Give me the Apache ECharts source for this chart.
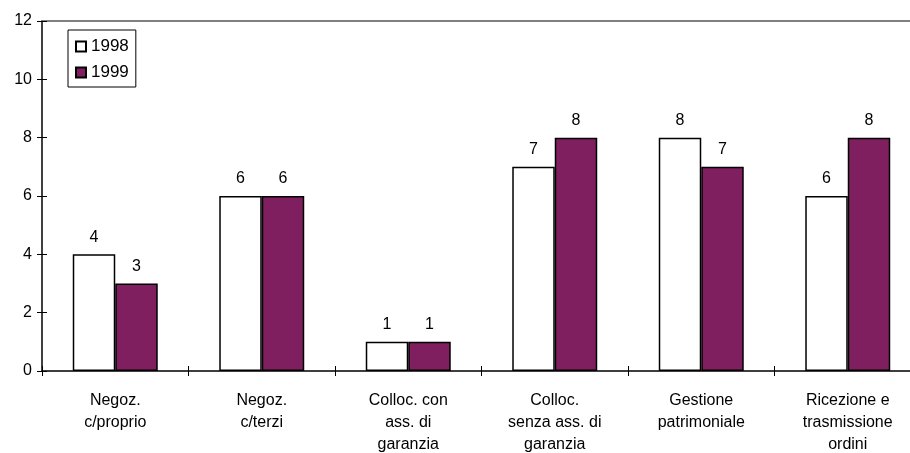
<!DOCTYPE html>
<html>
<head>
<meta charset="utf-8">
<script src="https://cdn.jsdelivr.net/npm/echarts@6/dist/echarts.min.js"></script>
<style>
  html, body { margin: 0; padding: 0; background: #fff; overflow: hidden; }
  #chart { width: 910px; height: 453px; }
</style>
</head>
<body>
<div id="chart"></div>
<script>
// categorie (asse x)
const categories = [
  'Negoz.\nc/proprio',
  'Negoz.\nc/terzi',
  'Colloc. con\nass. di\ngaranzia',
  'Colloc.\nsenza ass. di\ngaranzia',
  'Gestione\npatrimoniale',
  'Ricezione e\ntrasmissione\nordini'
];
// valori per anno
const values1998 = [4, 6, 1, 7, 8, 6];
const values1999 = [3, 6, 1, 8, 7, 8];
const seriesNames = ['1998', '1999'];

const FONT = 'Liberation Sans, Arial, sans-serif';
const chart = echarts.init(document.getElementById('chart'), null, { renderer: 'canvas' });

const axisLine = { show: true, lineStyle: { color: '#000', width: 1.5 } };

chart.setOption({
  animation: false,
  textStyle: { fontFamily: FONT },
  grid: {
    // il lato destro dell'area resta fuori dall'immagine (come nell'originale)
    left: 42, right: -11, top: 21, bottom: 82,
    outerBoundsMode: 'none',
    containLabel: false
  },
  legend: {
    orient: 'vertical',
    left: 68, top: 30,
    padding: [8, 7, 6, 7],
    itemGap: 9,
    itemWidth: 10, itemHeight: 10,
    icon: 'rect',
    borderColor: '#000', borderWidth: 1,
    textStyle: { fontSize: 17, color: '#000' },
    data: seriesNames
  },
  xAxis: [{
    type: 'category',
    data: categories,
    axisLine: axisLine,
    axisTick: { show: true, length: 5, lineStyle: { color: '#000' } },
    axisLabel: { fontSize: 16, color: '#000', margin: 19, lineHeight: 22, interval: 0, align: 'center', hideOverlap: false }
  }, {
    // tacche verso l'interno (le tacche attraversano l'asse)
    type: 'category',
    data: categories,
    position: 'bottom',
    axisLine: { show: false },
    axisTick: { show: true, inside: true, length: 5, lineStyle: { color: '#000' } },
    axisLabel: { show: false }
  }, {
    // linea grigia superiore
    type: 'category',
    data: categories,
    position: 'top',
    axisLine: { show: true, lineStyle: { color: '#808080', width: 2 } },
    axisTick: { show: false },
    axisLabel: { show: false }
  }],
  yAxis: [{
    type: 'value',
    min: 0, max: 12, interval: 2,
    axisLine: axisLine,
    axisTick: { show: true, length: 5, lineStyle: { color: '#000' } },
    axisLabel: { fontSize: 16, color: '#000', margin: 10 },
    splitLine: { show: false }
  }, {
    type: 'value',
    position: 'left',
    min: 0, max: 12, interval: 2,
    axisLine: { show: false },
    axisTick: { show: true, inside: true, length: 5, lineStyle: { color: '#000' } },
    axisLabel: { show: false },
    splitLine: { show: false }
  }],
  series: [{
    name: seriesNames[0],
    type: 'bar',
    data: values1998,
    barWidth: '29%',
    barGap: '0%',
    itemStyle: { color: '#ffffff', borderColor: '#000', borderWidth: 1.5 },
    label: { show: true, position: 'top', distance: 9, fontSize: 16, color: '#000' }
  }, {
    name: seriesNames[1],
    type: 'bar',
    data: values1999,
    barWidth: '29%',
    barGap: '0%',
    itemStyle: { color: '#7f1f5f', borderColor: '#000', borderWidth: 1.5 },
    label: { show: true, position: 'top', distance: 9, fontSize: 16, color: '#000' }
  }]
});
</script>
</body>
</html>
